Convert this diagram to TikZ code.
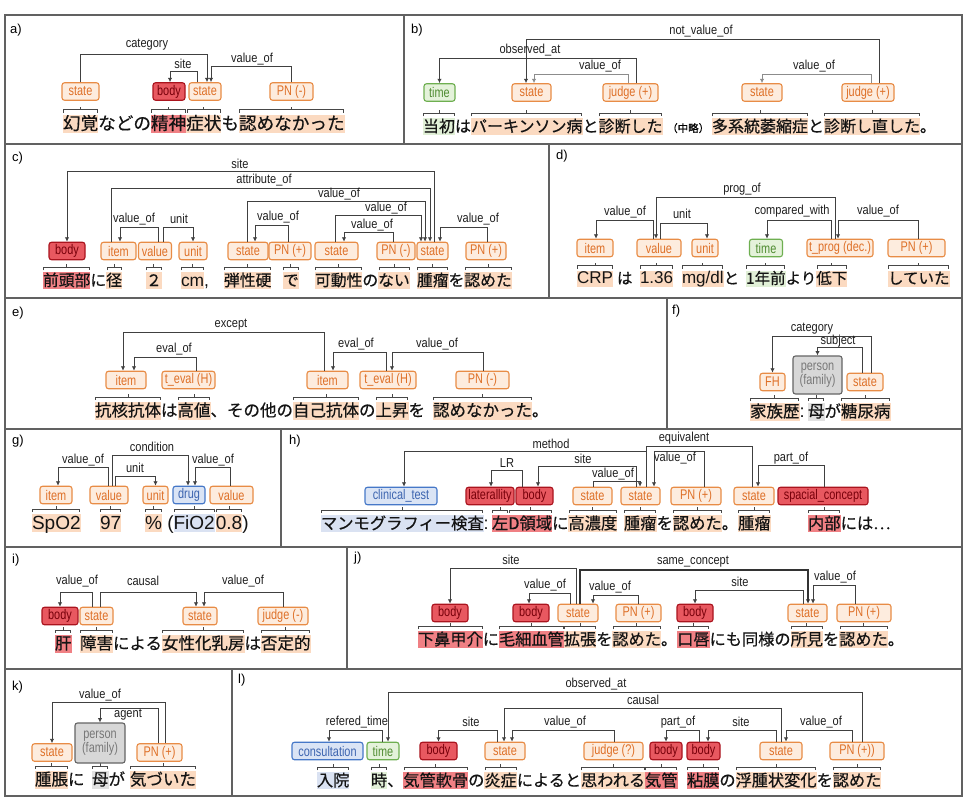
\documentclass[tikz,border=0pt]{standalone}
\usepackage{fontspec}
\setmainfont{Liberation Sans}
\newfontfamily\cjk{Noto Sans CJK JP}[FakeBold=0.5]
\newfontfamily\lsans{Liberation Sans}
\newfontfamily\nsans{Liberation Sans}[FakeStretch=0.85]
\newfontfamily\tsans{Liberation Sans}[FakeStretch=0.78]
\usetikzlibrary{arrows.meta,calc}
\definecolor{tagOd}{RGB}{232,140,70}\definecolor{tagOf}{RGB}{253,236,222}\definecolor{tagOt}{RGB}{222,112,40}
\definecolor{tagRd}{RGB}{170,20,30}\definecolor{tagRf}{RGB}{232,88,96}\definecolor{tagRt}{RGB}{120,0,10}
\definecolor{tagGd}{RGB}{110,175,80}\definecolor{tagGf}{RGB}{228,242,218}\definecolor{tagGt}{RGB}{80,140,50}
\definecolor{tagBd}{RGB}{70,120,200}\definecolor{tagBf}{RGB}{218,228,245}\definecolor{tagBt}{RGB}{60,100,175}
\definecolor{tagKd}{RGB}{100,100,100}\definecolor{tagKf}{RGB}{215,215,215}\definecolor{tagKt}{RGB}{120,120,120}
\definecolor{hlO}{RGB}{251,218,193}\definecolor{hlR}{RGB}{240,128,132}\definecolor{hlG}{RGB}{225,240,215}
\definecolor{hlB}{RGB}{218,226,242}\definecolor{hlK}{RGB}{225,225,225}
\newcount\labn
\newcommand\mysetfs[2]{\def\fsz{#1}\def\basey{#2}\pgfmathsetmacro\segth{0.86*#1}\pgfmathsetmacro\segtd{0.2*#1}\pgfmathsetmacro\lfs{1.1*#1}}
\newcommand\latn[1]{{\lsans\fontsize{\lfs}{\lfs}\selectfont #1}}
\newcommand\mytx[1]{\coordinate (segprev) at (#1,\basey);}
\newcommand\myseg[3]{\node[seg,#2] (#1) at (segprev) {#3}; \coordinate (segprev) at (#1.base east);}
\newcommand\mytag[6]{\node[#1,minimum width=#5pt] (#2) at (#3,#4) {#6};}
\newcommand\mybrc[1]{\draw[brc] ($(#1.north west)+(0.8,-2)$) -- ++(0,-3) -| ($(#1.north east)+(-0.8,-2)$); \draw[brc] ($(#1.north)+(0,-5)$) -- ++(0,-3);}
\newcommand\myrel[8]{%
 \path ([xshift=#2pt]#1.north) coordinate (rs) ([xshift=#4pt]#3.north) coordinate (re);
 \draw[rl,relx] (rs) -- (rs |- 0,#5) -| (re);
 \global\advance\labn by 1
 \node[lbl] (lab\the\labn) at (#6,#7) {#8};}
\tikzset{
 relx/.style={},
 seg/.style={anchor=base west,inner sep=0pt,outer sep=0pt,text height=\segth pt,text depth=\segtd pt,font=\cjk\fontsize{\fsz}{\fsz}\selectfont,text=black!92},
 hO/.style={fill=hlO}, hR/.style={fill=hlR}, hG/.style={fill=hlG}, hB/.style={fill=hlB}, hK/.style={fill=hlK}, hN/.style={},
 tagb/.style={rounded corners=2.5pt,line width=1.1pt,minimum height=17.5pt,inner sep=0pt,font=\tsans\fontsize{14}{13.5}\selectfont},
 tO/.style={tagb,draw=tagOd,fill=tagOf,text=tagOt},
 tR/.style={tagb,draw=tagRd,fill=tagRf,text=tagRt},
 tG/.style={tagb,draw=tagGd,fill=tagGf,text=tagGt},
 tB/.style={tagb,draw=tagBd,fill=tagBf,text=tagBt},
 tK/.style={tagb,draw=tagKd,fill=tagKf,text=tagKt},
 lbl/.style={font=\nsans\fontsize{13}{14}\selectfont,inner sep=0.5pt,text=black!88},
 rl/.style={draw=black!75,line width=0.95pt,-{Latex[length=4.4pt,width=4.4pt]}},
 brc/.style={draw=black!72,line width=0.95pt},
 pb/.style={draw=black!62,line width=1.6pt},
 plab/.style={font=\lsans\fontsize{13}{13}\selectfont,anchor=west,inner sep=0pt}
}
\begin{document}
\begin{tikzpicture}[x=1pt,y=-1pt]
\useasboundingbox (0,0) rectangle (965,797);
\fill[white] (0,0) rectangle (965,797);
% panel frames
\draw[pb] (5,15) rectangle (962,796);
\draw[pb] (5,144) -- (962,144) (5,298) -- (962,298) (5,429) -- (962,429) (5,547) -- (962,547) (5,669) -- (962,669);
\draw[pb] (404,15) -- (404,144) (549,144) -- (549,298) (667,298) -- (667,429) (281,429) -- (281,547) (347,547) -- (347,669) (232,669) -- (232,796);
\node[plab] (pa) at (10,30) {a)};
\node[plab] (pbb) at (411,30) {b)};
\node[plab] (pc) at (12,158) {c)};
\node[plab] (pd) at (556,156) {d)};
\node[plab] (pe) at (12,313) {e)};
\node[plab] (pf) at (672,311) {f)};
\node[plab] (pg) at (12,441) {g)};
\node[plab] (ph) at (289,441) {h)};
\node[plab] (pi) at (12,560) {i)};
\node[plab] (pj) at (354,558) {j)};
\node[plab] (pk) at (12,687) {k)};
\node[plab] (pl) at (238,680) {l)};

% ---------- a ----------
\mysetfs{17.6}{129.7}
\mytx{63}\myseg{a1}{hO}{幻覚}\myseg{a2}{hN}{などの}\myseg{a3}{hR}{精神}\myseg{a4}{hO}{症状}\myseg{a5}{hN}{も}\myseg{a6}{hO}{認めなかった}
\mybrc{a1}\mybrc{a3}\mybrc{a4}\mybrc{a6}
\mytag{tO}{ta1}{80.5}{91.5}{37}{state}
\mytag{tR}{ta2}{169}{91.5}{32}{body}
\mytag{tO}{ta3}{205}{91.5}{32}{state}
\mytag{tO}{ta4}{291.5}{91.5}{43}{PN (-)}
\myrel{ta1}{0}{ta3}{2}{54}{147}{45}{category}
\myrel{ta3}{-8}{ta2}{1}{71}{183}{64}{site}
\myrel{ta4}{0}{ta3}{6}{66}{252}{59}{value\_of}

% ---------- b ----------
\mysetfs{16}{132.1}
\mytx{423}\myseg{b1}{hG}{当初}\myseg{b2}{hN}{は}\myseg{b3}{hO}{パーキンソン病}\myseg{b4}{hN}{と}\myseg{b5}{hO}{診断した}
\node[anchor=base west,inner sep=0pt,font=\cjk\fontsize{10.5}{11}\selectfont] (b6) at (667,\basey) {（中略）};
\mytx{712}\myseg{b7}{hO}{多系統萎縮症}\myseg{b8}{hN}{と}\myseg{b9}{hO}{診断し直した}\myseg{b10}{hN}{。}
\mybrc{b1}\mybrc{b3}\mybrc{b5}\mybrc{b7}\mybrc{b9}
\mytag{tG}{tb1}{439.5}{92.5}{31}{time}
\mytag{tO}{tb2}{531.5}{92.5}{39}{state}
\mytag{tO}{tb3}{630.5}{92.5}{55}{judge (+)}
\mytag{tO}{tb4}{762}{92.5}{40}{state}
\mytag{tO}{tb5}{868}{92.5}{52}{judge (+)}
\myrel{tb5}{11}{tb2}{-5.5}{39}{701}{31}{not\_value\_of}
\myrel{tb3}{5.5}{tb1}{0}{58}{530}{50}{observed\_at}
\tikzset{relx/.style={draw=black!45}}
\myrel{tb3}{-2.5}{tb2}{2.5}{74}{600}{66}{value\_of}
\myrel{tb5}{3}{tb4}{0}{74}{814}{66}{value\_of}
\tikzset{relx/.style={}}

% ---------- c ----------
\mysetfs{15.8}{286}
\mytx{43}\myseg{c1}{hR}{前頭部}\myseg{c2}{hN}{に}\myseg{c3}{hO}{径}
\mytx{146}\myseg{c4}{hO}{２}
\mytx{181}\myseg{c5}{hO}{\latn{cm}}\myseg{c6}{hN}{\latn{,}}
\mytx{224}\myseg{c7}{hO}{弾性硬}
\mytx{283}\myseg{c8}{hO}{で}
\mytx{315}\myseg{c9}{hO}{可動性}\myseg{c10}{hN}{の}\myseg{c11}{hO}{ない}
\mytx{417}\myseg{c12}{hO}{腫瘤}\myseg{c13}{hN}{を}\myseg{c14}{hO}{認めた}
\mybrc{c1}\mybrc{c3}\mybrc{c4}\mybrc{c5}\mybrc{c7}\mybrc{c8}\mybrc{c9}\mybrc{c11}\mybrc{c12}\mybrc{c14}
\mytag{tR}{tc1}{67}{251}{36}{body}
\mytag{tO}{tc2}{118.5}{251}{35}{item}
\mytag{tO}{tc3}{155}{251}{33}{value}
\mytag{tO}{tc4}{193}{251}{28}{unit}
\mytag{tO}{tc5}{248}{251}{40}{state}
\mytag{tO}{tc6}{290}{251}{42}{PN (+)}
\mytag{tO}{tc7}{336.5}{251}{43}{state}
\mytag{tO}{tc8}{396}{251}{38}{PN (-)}
\mytag{tO}{tc9}{432.5}{251}{31}{state}
\mytag{tO}{tc10}{486}{251}{40}{PN (+)}
\myrel{tc9}{1.5}{tc1}{0}{171}{240}{164}{site}
\myrel{tc2}{-7.5}{tc9}{-2.5}{188}{264}{180}{attribute\_of}
\myrel{tc5}{-1}{tc9}{-7.5}{201.5}{339}{194}{value\_of}
\myrel{tc7}{-1.5}{tc9}{-11.5}{215}{386}{208}{value\_of}
\myrel{tc8}{-3}{tc7}{7.5}{232}{372}{225}{value\_of}
\myrel{tc6}{-2}{tc5}{7}{225}{278}{217}{value\_of}
\myrel{tc10}{1}{tc9}{7.5}{227}{478}{219}{value\_of}
\myrel{tc3}{3}{tc2}{1.5}{227}{134}{219}{value\_of}
\myrel{tc3}{8}{tc4}{0}{227}{179}{219}{unit}

% ---------- d ----------
\mysetfs{15.5}{283.9}
\mytx{577}\myseg{d1}{hO}{\latn{CRP}}
\mytx{617}\myseg{d2}{hN}{は}
\mytx{640}\myseg{d3}{hO}{\latn{1.36}}
\mytx{682}\myseg{d4}{hO}{\latn{mg/dl}}\myseg{d5}{hN}{と}
\mytx{746}\myseg{d6}{hG}{1年前}\myseg{d7}{hN}{より}\myseg{d8}{hO}{低下}
\mytx{888}\myseg{d9}{hO}{していた}
\mybrc{d1}\mybrc{d3}\mybrc{d4}\mybrc{d6}\mybrc{d8}\mybrc{d9}
\mytag{tO}{td1}{595}{248}{36}{item}
\mytag{tO}{td2}{659}{248}{44}{value}
\mytag{tO}{td3}{705}{248}{26}{unit}
\mytag{tG}{td4}{766}{248}{33}{time}
\mytag{tO}{td5}{840}{248}{66}{t\_prog (dec.)}
\mytag{tO}{td6}{916.5}{248}{57}{PN (+)}
\myrel{td5}{-5}{td2}{-3}{197}{742}{189}{prog\_of}
\myrel{td2}{-6}{td1}{1}{220}{625}{212}{value\_of}
\myrel{td2}{1}{td3}{2}{223}{682}{214}{unit}
\myrel{td5}{-9}{td4}{1}{220}{792}{211}{compared\_with}
\myrel{td6}{1.5}{td5}{-2}{220}{878}{211}{value\_of}

% ---------- e ----------
\mysetfs{16.5}{416.3}
\mytx{95}\myseg{e1}{hO}{抗核抗体}\myseg{e2}{hN}{は}\myseg{e3}{hO}{高値}\myseg{e4}{hN}{、その他の}\myseg{e5}{hO}{自己抗体}\myseg{e6}{hN}{の}\myseg{e7}{hO}{上昇}\myseg{e8}{hN}{を}
\mytx{433}\myseg{e9}{hO}{認めなかった}\myseg{e10}{hN}{。}
\mybrc{e1}\mybrc{e3}\mybrc{e5}\mybrc{e7}\mybrc{e9}
\mytag{tO}{te1}{126}{380}{40}{item}
\mytag{tO}{te2}{188.5}{380}{53}{t\_eval (H)}
\mytag{tO}{te3}{327.5}{380}{41}{item}
\mytag{tO}{te4}{388}{380}{56}{t\_eval (H)}
\mytag{tO}{te5}{482.5}{380}{53}{PN (-)}
\myrel{te3}{-3.5}{te1}{-3}{332}{231}{325}{except}
\myrel{te2}{7.5}{te1}{8}{357}{174}{349}{eval\_of}
\myrel{te4}{-2}{te3}{5.5}{352}{356}{344}{eval\_of}
\myrel{te5}{0.5}{te4}{4}{352}{437}{344}{value\_of}

% ---------- f ----------
\mysetfs{16.5}{417.3}
\mytx{750}\myseg{f1}{hO}{家族歴}\myseg{f2}{hN}{\latn{:}}
\mytx{808}\myseg{f3}{hK}{母}\myseg{f4}{hN}{が}\myseg{f5}{hO}{糖尿病}
\mybrc{f1}\mybrc{f3}\mybrc{f5}
\mytag{tO}{tf1}{772.5}{382}{25}{FH}
\node[tK,minimum width=49pt,minimum height=38pt,align=center] (tf2) at (817.5,375) {person\\(family)};
\mytag{tO}{tf3}{865}{382}{36}{state}
\myrel{tf3}{6}{tf1}{0}{336}{812}{329}{category}
\myrel{tf3}{-3}{tf2}{0}{347}{838}{341}{subject}

% ---------- g ----------
\mysetfs{17.3}{529}
\mytx{32}\myseg{g1}{hO}{\latn{SpO2}}
\mytx{100}\myseg{g2}{hO}{\latn{97}}
\mytx{145}\myseg{g3}{hO}{\latn{\%}}\myseg{g4}{hN}{\latn{\hspace{0.28em}(}}\myseg{g5}{hB}{\latn{FiO2}}\myseg{g6}{hN}{\latn{\hspace{0.28em}}}\myseg{g7}{hO}{\latn{0.8}}\myseg{g8}{hN}{\latn{)}}
\mybrc{g1}\mybrc{g2}\mybrc{g3}\mybrc{g5}\mybrc{g7}
\mytag{tO}{tg1}{56}{495}{32}{item}
\mytag{tO}{tg2}{109}{495}{38}{value}
\mytag{tO}{tg3}{155.5}{495}{25}{unit}
\mytag{tB}{tg4}{189}{495}{32}{drug}
\mytag{tO}{tg5}{231.5}{495}{43}{value}
\myrel{tg2}{3}{tg4}{-1}{455}{152}{447}{condition}
\myrel{tg2}{-1}{tg1}{2}{467}{83}{460}{value\_of}
\myrel{tg2}{6}{tg3}{0}{476}{135}{468}{unit}
\myrel{tg5}{-1.5}{tg4}{6}{467}{213}{460}{value\_of}

% ---------- h ----------
\mysetfs{16.3}{529.2}
\mytx{321}\myseg{h1}{hB}{マンモグラフィー検査}\myseg{h2}{hN}{\latn{:}}
\mytx{492}\myseg{h3}{hR}{左}\myseg{h4}{hR}{D領域}\myseg{h5}{hN}{に}\myseg{h6}{hO}{高濃度}
\mytx{624}\myseg{h7}{hO}{腫瘤}\myseg{h8}{hN}{を}\myseg{h9}{hO}{認めた}\myseg{h10}{hN}{。}\myseg{h11}{hO}{腫瘤}
\mytx{808}\myseg{h12}{hR}{内部}\myseg{h13}{hN}{には…}
\mybrc{h1}\mybrc{h3}\mybrc{h4}\mybrc{h6}\mybrc{h7}\mybrc{h9}\mybrc{h11}\mybrc{h12}
\mytag{tB}{th1}{401}{496}{72}{clinical\_test}
\mytag{tR}{th2}{490}{496}{48}{laterallity}
\mytag{tR}{th3}{534.5}{496}{37}{body}
\mytag{tO}{th4}{592.5}{496}{39}{state}
\mytag{tO}{th5}{640.5}{496}{39}{state}
\mytag{tO}{th6}{696}{496}{50}{PN (+)}
\mytag{tO}{th7}{754}{496}{40}{state}
\mytag{tR}{th8}{823}{496}{90}{spacial\_concept}
\myrel{th5}{5.5}{th1}{3}{451}{551}{444}{method}
\tikzset{relx/.style={-}}
\myrel{th5}{5.5}{th7}{-2}{446}{684}{438}{equivalent}
\tikzset{relx/.style={}}
\myrel{th6}{8}{th5}{13.5}{451}{675}{458}{value\_of}
\myrel{th3}{-12.5}{th2}{1}{470}{507}{463}{LR}
\myrel{th5}{-4.5}{th3}{3.5}{466}{583}{459}{site}
\myrel{th4}{0.5}{th5}{-0.5}{481}{613}{474}{value\_of}
\myrel{th8}{1}{th7}{4}{465}{791}{458}{part\_of}

% ---------- i ----------
\mysetfs{16.5}{649.3}
\mytx{55}\myseg{i1}{hR}{肝}
\mytx{80}\myseg{i2}{hO}{障害}\myseg{i3}{hN}{による}\myseg{i4}{hO}{女性化乳房}\myseg{i5}{hN}{は}\myseg{i6}{hO}{否定的}
\mybrc{i1}\mybrc{i2}\mybrc{i4}\mybrc{i6}
\mytag{tR}{ti1}{60}{616}{36}{body}
\mytag{tO}{ti2}{96.5}{616}{33}{state}
\mytag{tO}{ti3}{200}{616}{34}{state}
\mytag{tO}{ti4}{283}{616}{50}{judge (-)}
\myrel{ti2}{-4.5}{ti1}{0}{592}{77}{581}{value\_of}
\myrel{ti2}{3.5}{ti3}{-4}{592}{143}{581}{causal}
\myrel{ti4}{0}{ti3}{4}{592}{243}{581}{value\_of}

% ---------- j ----------
\mysetfs{16.2}{645.2}
\mytx{418}\myseg{j1}{hR}{下鼻甲介}\myseg{j2}{hN}{に}\myseg{j3}{hR}{毛細血管}\myseg{j4}{hO}{拡張}\myseg{j5}{hN}{を}\myseg{j6}{hO}{認めた}\myseg{j7}{hN}{。}\myseg{j8}{hR}{口唇}\myseg{j9}{hN}{にも同様の}\myseg{j10}{hO}{所見}\myseg{j11}{hN}{を}\myseg{j12}{hO}{認めた}\myseg{j13}{hN}{。}
\mybrc{j1}\mybrc{j3}\mybrc{j4}\mybrc{j6}\mybrc{j8}\mybrc{j10}\mybrc{j12}
\mytag{tR}{tj1}{450}{613}{36}{body}
\mytag{tR}{tj2}{531}{613}{36}{body}
\mytag{tO}{tj3}{578}{613}{40}{state}
\mytag{tO}{tj4}{638.5}{613}{45}{PN (+)}
\mytag{tR}{tj5}{695}{613}{36}{body}
\mytag{tO}{tj6}{807.5}{613}{39}{state}
\mytag{tO}{tj7}{864}{613}{54}{PN (+)}
\myrel{tj3}{-2}{tj1}{0}{568}{511}{560}{site}
\tikzset{relx/.style={line width=1.3pt,draw=black!80}}
\myrel{tj3}{2}{tj6}{0.5}{570}{693}{562}{same\_concept}
\tikzset{relx/.style={}}
\myrel{tj3}{-8}{tj2}{-2}{593}{545}{585}{value\_of}
\myrel{tj4}{0}{tj3}{15}{595}{610}{587}{value\_of}
\myrel{tj6}{-4.5}{tj5}{0}{590}{740}{582}{site}
\myrel{tj7}{-9}{tj6}{5.5}{585}{835}{577}{value\_of}

% ---------- k ----------
\mysetfs{16.5}{785.3}
\mytx{35}\myseg{k1}{hO}{腫脹}\myseg{k2}{hN}{に}
\mytx{92}\myseg{k3}{hK}{母}\myseg{k4}{hN}{が}
\mytx{130}\myseg{k5}{hO}{気づいた}
\mybrc{k1}\mybrc{k3}\mybrc{k5}
\mytag{tO}{tk1}{52}{752.5}{40}{state}
\node[tK,minimum width=50pt,minimum height=40pt,align=center] (tk2) at (100,743) {person\\(family)};
\mytag{tO}{tk3}{159.5}{752.5}{45}{PN (+)}
\myrel{tk3}{5.5}{tk1}{0}{702}{100}{695}{value\_of}
\myrel{tk3}{-1.5}{tk2}{0}{708}{128}{715}{agent}

% ---------- l ----------
\mysetfs{16.2}{786.2}
\mytx{317}\myseg{l1}{hB}{入院}
\mytx{371}\myseg{l2}{hG}{時}\myseg{l3}{hN}{、}\myseg{l4}{hR}{気管軟骨}\myseg{l5}{hN}{の}\myseg{l6}{hO}{炎症}\myseg{l7}{hN}{によると}\myseg{l8}{hO}{思われる}\myseg{l9}{hR}{気管}
\mytx{687}\myseg{l10}{hR}{粘膜}\myseg{l11}{hN}{の}\myseg{l12}{hO}{浮腫状変化}\myseg{l13}{hN}{を}\myseg{l14}{hO}{認めた}
\mybrc{l1}\mybrc{l2}\mybrc{l4}\mybrc{l6}\mybrc{l8}\mybrc{l9}\mybrc{l10}\mybrc{l12}\mybrc{l14}
\mytag{tB}{tl1}{327.5}{751}{71}{consultation}
\mytag{tG}{tl2}{383}{751}{32}{time}
\mytag{tR}{tl3}{438.5}{751}{37}{body}
\mytag{tO}{tl4}{505}{751}{40}{state}
\mytag{tO}{tl5}{613.5}{751}{59}{judge (?)}
\mytag{tR}{tl6}{666}{751}{32}{body}
\mytag{tR}{tl7}{703.5}{751}{33}{body}
\mytag{tO}{tl8}{781}{751}{42}{state}
\mytag{tO}{tl9}{857}{751}{54}{PN (+))}
\myrel{tl9}{5}{tl2}{5}{692}{596}{684}{observed\_at}
\myrel{tl8}{0}{tl4}{-1}{708}{643}{700}{causal}
\myrel{tl2}{-1}{tl1}{1.5}{730}{357}{722}{refered\_time}
\myrel{tl4}{-8}{tl3}{0}{730}{471}{722}{site}
\myrel{tl5}{0.5}{tl4}{7}{730}{565}{722}{value\_of}
\myrel{tl7}{-4.5}{tl6}{0}{730}{678}{722}{part\_of}
\myrel{tl8}{-5}{tl7}{4.5}{730}{741}{722}{site}
\myrel{tl9}{-5}{tl8}{5}{730}{821}{722}{value\_of}
\end{tikzpicture}
\end{document}
